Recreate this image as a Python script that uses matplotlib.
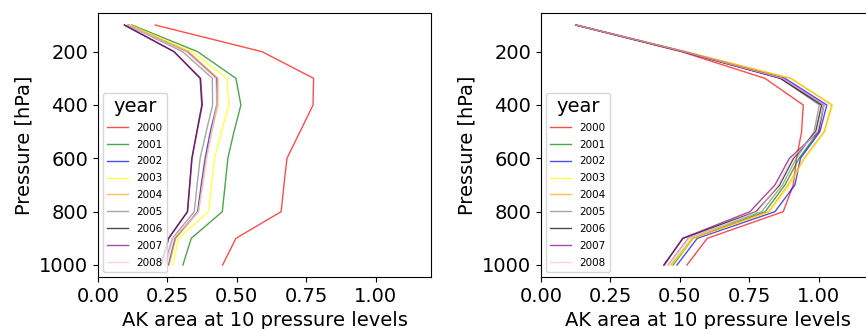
import matplotlib
matplotlib.use("Agg")
import matplotlib.pyplot as plt

# pressure levels (hPa)
levels = [100, 200, 300, 400, 500, 600, 700, 800, 900, 1000]
years = ['2000', '2001', '2002', '2003', '2004', '2005', '2006', '2007', '2008']
colors = ['red', 'green', 'blue', 'yellow', 'orange', 'gray', 'black', 'purple', 'pink']

# AK area, left panel
left_2000 = [0.206, 0.591, 0.777, 0.775, 0.728, 0.681, 0.670, 0.660, 0.497, 0.449]
left_2001 = [0.122, 0.359, 0.497, 0.515, 0.490, 0.468, 0.458, 0.448, 0.336, 0.306]
left_2002 = [0.110, 0.322, 0.428, 0.428, 0.405, 0.386, 0.372, 0.359, 0.278, 0.254]
left_2003 = [0.116, 0.338, 0.465, 0.471, 0.445, 0.420, 0.409, 0.398, 0.290, 0.270]
left_2004 = [0.112, 0.326, 0.432, 0.432, 0.410, 0.390, 0.376, 0.362, 0.280, 0.256]
left_2005 = [0.105, 0.305, 0.412, 0.413, 0.390, 0.368, 0.357, 0.347, 0.268, 0.240]
left_2006 = [0.095, 0.274, 0.368, 0.374, 0.356, 0.338, 0.330, 0.322, 0.254, 0.227]
left_2007 = [0.095, 0.274, 0.370, 0.376, 0.357, 0.339, 0.331, 0.323, 0.255, 0.228]
left_2008 = [0.108, 0.318, 0.424, 0.428, 0.410, 0.392, 0.378, 0.362, 0.272, 0.244]

# AK area, right panel
right_2000 = [0.125, 0.506, 0.807, 0.945, 0.939, 0.921, 0.909, 0.873, 0.599, 0.526]
right_2001 = [0.125, 0.515, 0.870, 1.020, 1.000, 0.930, 0.879, 0.808, 0.548, 0.476]
right_2002 = [0.125, 0.518, 0.879, 1.030, 1.005, 0.935, 0.915, 0.843, 0.563, 0.490]
right_2003 = [0.125, 0.520, 0.900, 1.051, 1.023, 0.951, 0.895, 0.825, 0.550, 0.470]
right_2004 = [0.125, 0.522, 0.900, 1.048, 1.020, 0.948, 0.890, 0.820, 0.545, 0.468]
right_2005 = [0.125, 0.515, 0.863, 1.003, 0.984, 0.920, 0.870, 0.795, 0.530, 0.458]
right_2006 = [0.125, 0.512, 0.863, 1.011, 0.990, 0.910, 0.860, 0.775, 0.512, 0.442]
right_2007 = [0.125, 0.512, 0.865, 1.018, 1.000, 0.895, 0.843, 0.753, 0.510, 0.445]
right_2008 = [0.125, 0.515, 0.870, 1.020, 0.995, 0.905, 0.855, 0.780, 0.535, 0.460]

left_data = [left_2000, left_2001, left_2002, left_2003, left_2004,
             left_2005, left_2006, left_2007, left_2008]
right_data = [right_2000, right_2001, right_2002, right_2003, right_2004,
              right_2005, right_2006, right_2007, right_2008]

fig = plt.figure(figsize=(8.66, 3.29), dpi=100)
ax1 = fig.add_axes([98/866, 52/329, 333/866, 264/329])
ax2 = fig.add_axes([541/866, 52/329, 333/866, 264/329])

for ax, data in [(ax1, left_data), (ax2, right_data)]:
    for vals, yr, c in zip(data, years, colors):
        ax.plot(vals, levels, color=c, lw=1, alpha=0.7, label=yr)
    ax.invert_yaxis()
    ax.set_xlim(0, 1.2)
    ax.set_xticks([0, 0.25, 0.5, 0.75, 1.0])
    ax.set_yticks([200, 400, 600, 800, 1000])
    ax.tick_params(labelsize=14)
    ax.set_xlabel('AK area at 10 pressure levels', fontsize=14)
    ax.set_ylabel('Pressure [hPa]', fontsize=14)
    ax.legend(title='year', loc='lower left', fontsize=7.5, title_fontsize=14,
              labelspacing=0.66)

fig.savefig('out.png', dpi=100)
